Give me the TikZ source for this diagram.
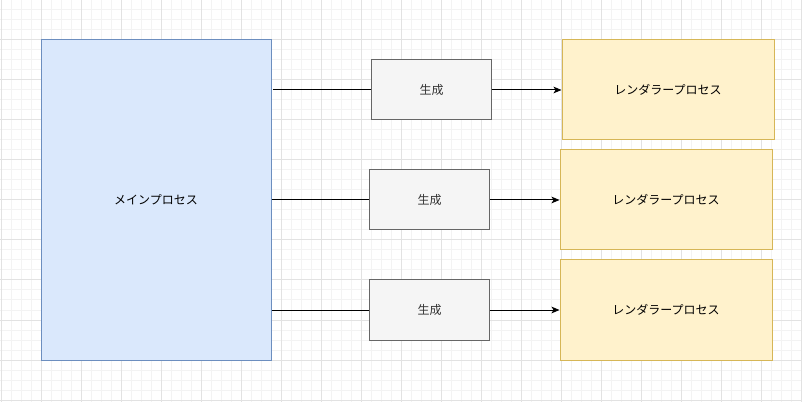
\documentclass[tikz,border=0pt]{standalone}
\usepackage{fontspec}
\setmainfont{Noto Sans CJK JP}
\usepackage{tikz}
\usetikzlibrary{arrows.meta,positioning,calc}
\definecolor{gridMajor}{RGB}{226,226,226}
\definecolor{gridMinor}{RGB}{243,243,243}
\definecolor{mainFill}{RGB}{218,232,252}
\definecolor{mainLine}{RGB}{108,142,191}
\definecolor{genFill}{RGB}{245,245,245}
\definecolor{genLine}{RGB}{102,102,102}
\definecolor{genText}{RGB}{51,51,51}
\definecolor{renderFill}{RGB}{255,242,204}
\definecolor{renderLine}{RGB}{214,182,86}
\tikzset{
  mainbox/.style={draw=mainLine,fill=mainFill,line width=0.75pt,minimum width=172.5pt,minimum height=240pt,font=\fontsize{9}{11}\selectfont},
  genbox/.style={draw=genLine,fill=genFill,line width=0.75pt,minimum width=90pt,minimum height=45pt,text=genText,font=\fontsize{9}{11}\selectfont},
  renderbox/.style={draw=renderLine,fill=renderFill,line width=0.75pt,minimum width=159pt,minimum height=75pt,font=\fontsize{9}{11}\selectfont},
  link/.style={line width=0.75pt,black},
}
\begin{document}
\begin{tikzpicture}[x=0.75pt,y=-0.75pt]
        \useasboundingbox (0,0) rectangle (802,402);
        % Grid
        \foreach \gx in {1,11,...,801} {\draw[gridMinor,line width=0.75pt] (\gx,0) -- (\gx,402);}
        \foreach \gy in {0,10,...,400} {\draw[gridMinor,line width=0.75pt] (0,\gy) -- (802,\gy);}
        \foreach \gx in {1,41,...,801} {\draw[gridMajor,line width=0.75pt] (\gx,0) -- (\gx,402);}
        \foreach \gy in {0,40,...,400} {\draw[gridMajor,line width=0.75pt] (0,\gy) -- (802,\gy);}
        % Boxes
        \node[mainbox] (main) at (156,200) {メインプロセス};
        \node[genbox] (gen1) at (431.5,90) {生成};
        \node[genbox] (gen2) at (429.5,200) {生成};
        \node[genbox] (gen3) at (429.5,310) {生成};
        \node[renderbox] (render1) at (668,90) {レンダラープロセス};
        \node[renderbox] (render2) at (666,200) {レンダラープロセス};
        \node[renderbox] (render3) at (666,310) {レンダラープロセス};
        % Connectors
        \coordinate (start1) at (273,90);
        \draw[link] (start1) -- (gen1.west);
        \draw[link] (main.east |- gen2.west) -- (gen2.west);
        \draw[link] (main.east |- gen3.west) -- (gen3.west);
        \draw[link,-{Stealth[length=6pt,width=5pt,inset=1.5pt]}] (gen1.east) -- (render1.west);
        \draw[link,-{Stealth[length=6pt,width=5pt,inset=1.5pt]}] (gen2.east) -- (render2.west);
        \draw[link,-{Stealth[length=6pt,width=5pt,inset=1.5pt]}] (gen3.east) -- (render3.west);
      \end{tikzpicture}
\end{document}
